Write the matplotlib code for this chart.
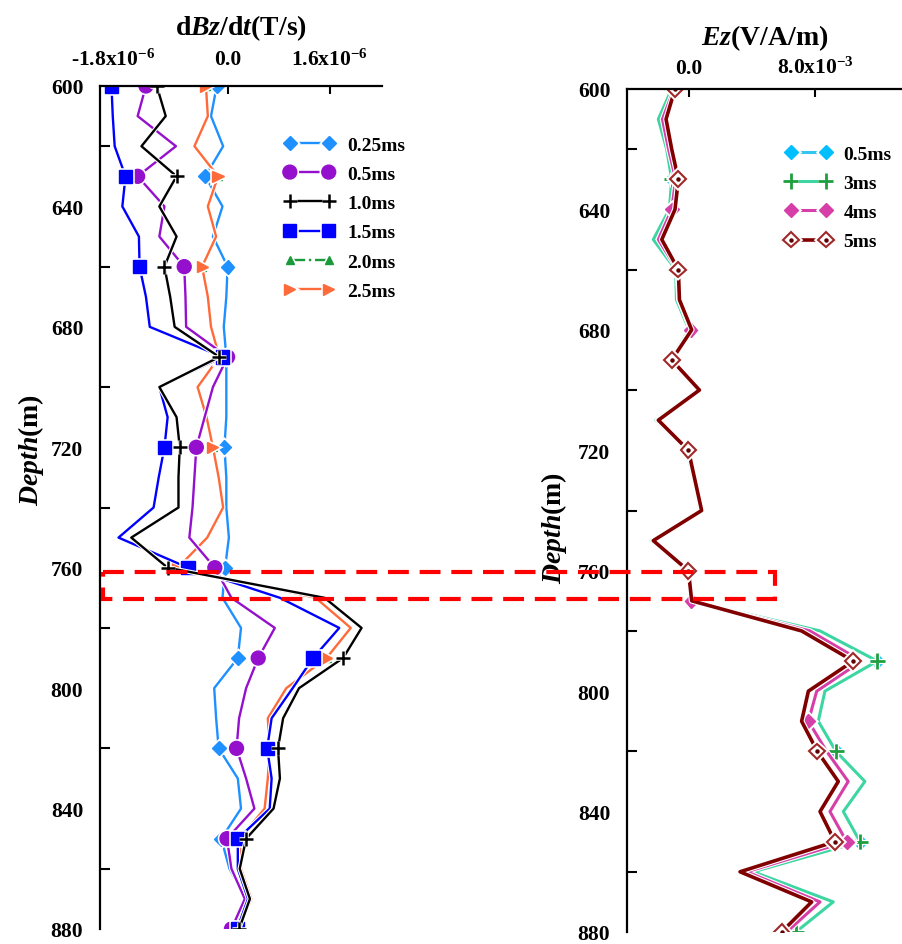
import numpy as np
import matplotlib
matplotlib.use("Agg")
import matplotlib.pyplot as plt
import matplotlib.patheffects as pe
from matplotlib.patches import Rectangle
from matplotlib.transforms import blended_transform_factory

plt.rcParams['font.family'] = ['Liberation Serif', 'DejaVu Serif']
plt.rcParams['font.weight'] = 'bold'
plt.rcParams['axes.labelweight'] = 'bold'
plt.rcParams['mathtext.fontset'] = 'custom'
plt.rcParams['mathtext.rm'] = 'Liberation Serif:bold'
plt.rcParams['mathtext.it'] = 'Liberation Serif:italic:bold'
plt.rcParams['mathtext.bf'] = 'Liberation Serif:bold'

# depth samples (m)
depth = np.arange(600, 881, 10)

# dBz/dt, in 1e-6 T/s
dbz_025 = [-0.17, -0.26, -0.07, -0.35, -0.08, -0.23, 0.00, -0.02, -0.06, -0.02,
           -0.02, -0.02, -0.05, -0.02, -0.02, 0.02, -0.04, -0.08, 0.21, 0.16,
           -0.21, -0.18, -0.14, 0.16, 0.21, -0.10, 0.03, 0.29, 0.10]
dbz_05 = [-1.28, -1.41, -0.81, -1.41, -0.99, -1.07, -0.68, -0.66, -0.65, 0.00,
          -0.23, -0.36, -0.49, -0.52, -0.55, -0.60, -0.20, 0.06, 0.74, 0.48,
          0.29, 0.18, 0.14, 0.29, 0.42, -0.01, 0.06, 0.27, 0.06]
dbz_10 = [-1.11, -0.97, -1.35, -0.80, -1.07, -0.80, -0.99, -0.90, -0.83, -0.13,
          -1.07, -0.80, -0.75, -0.77, -0.77, -1.51, -0.94, 1.52, 2.10, 1.81,
          1.12, 0.87, 0.79, 0.82, 0.72, 0.29, 0.19, 0.35, 0.18]
dbz_15 = [-1.82, -1.80, -1.77, -1.60, -1.65, -1.39, -1.38, -1.28, -1.22, -0.08,
          -1.07, -0.94, -0.99, -1.08, -1.16, -1.71, -0.62, 0.82, 1.75, 1.34,
          1.02, 0.69, 0.62, 0.69, 0.66, 0.16, 0.16, 0.32, 0.15]
dbz_20 = [-0.34, -0.31, -0.52, -0.15, -0.31, -0.18, -0.40, -0.31, -0.26, -0.13,
          -0.47, -0.33, -0.23, -0.14, -0.07, -0.32, -0.78, 1.38, 1.93, 1.55,
          0.92, 0.63, 0.66, 0.63, 0.58, 0.19, 0.21, 0.37, 0.17]
dbz_25 = [-0.34, -0.31, -0.52, -0.15, -0.31, -0.18, -0.40, -0.31, -0.26, -0.13,
          -0.47, -0.33, -0.23, -0.14, -0.07, -0.32, -0.78, 1.38, 1.93, 1.55,
          0.92, 0.63, 0.66, 0.63, 0.58, 0.19, 0.21, 0.37, 0.17]

# Ez, in 1e-3 V/A/m
ez_05 = [-1.10, -1.95, -1.42, -1.10, -1.25, -2.27, -0.85, -0.80, 0.00, -1.20,
         0.55, -2.10, -0.15, 0.30, 0.72, -2.40, -0.10, 0.12, 8.32, 11.96,
         8.63, 8.21, 9.33, 11.17, 9.80, 10.86, 4.08, 9.16, 6.79]
ez_3 = [-1.10, -1.95, -1.42, -1.10, -1.25, -2.27, -0.85, -0.80, 0.00, -1.20,
        0.55, -2.10, -0.15, 0.30, 0.72, -2.40, -0.10, 0.12, 8.32, 11.96,
        8.63, 8.21, 9.33, 11.17, 9.80, 10.86, 4.08, 9.16, 6.79]
ez_4 = [-0.95, -1.69, -1.30, -0.85, -1.10, -1.95, -0.75, -0.65, 0.10, -1.15,
        0.62, -2.00, -0.08, 0.35, 0.78, -2.30, -0.06, 0.15, 7.68, 10.96,
        8.11, 7.58, 8.74, 10.11, 8.95, 10.01, 3.66, 8.32, 6.20]
ez_5 = [-0.89, -1.46, -1.10, -0.68, -0.89, -1.73, -0.68, -0.61, 0.17, -1.10,
        0.66, -1.95, -0.04, 0.38, 0.80, -2.27, -0.04, 0.17, 7.15, 10.43,
        7.58, 7.15, 8.15, 9.48, 8.32, 9.27, 3.24, 7.79, 5.88]

mark_idx = [0, 3, 6, 9, 12, 16, 19, 22, 25, 28]
mark_idx_4ms = [0, 4, 8, 12, 17, 21, 25]

fig = plt.figure(figsize=(9.03, 9.45), dpi=100)
ax1 = fig.add_axes([100 / 903, 15 / 945, 282 / 903, 843 / 945])
ax2 = fig.add_axes([627 / 903, 12 / 945, 276 / 903, 843 / 945])


def halo(lw):
    return [pe.Stroke(linewidth=lw + 1.6, foreground='white'), pe.Normal()]


def style_axis(ax, xpad):
    ax.set_ylim(880, 600)
    ax.spines['bottom'].set_visible(False)
    ax.spines['right'].set_visible(False)
    ax.spines['top'].set_linewidth(1.6)
    ax.spines['left'].set_linewidth(1.6)
    ax.xaxis.tick_top()
    ax.xaxis.set_label_position('top')
    ax.set_yticks(np.arange(600, 881, 40))
    ax.set_yticks(np.arange(620, 880, 40), minor=True)
    ax.tick_params(axis='y', which='major', length=0, pad=12, labelsize=15.5)
    ax.tick_params(axis='y', which='minor', direction='in', length=7, width=1.5)
    ax.tick_params(axis='x', which='major', direction='in', length=6, width=1.5,
                   pad=xpad, labelsize=15.5)


# ---- left: dBz/dt ----
lw = 1.7
left_series = [
    (dbz_025, '0.25ms', dict(color='#1E90FF', marker='D', ms=7)),
    (dbz_20, '2.0ms', dict(color='#1A9A3A', marker='^', ms=6, ls='-.')),
    (dbz_25, '2.5ms', dict(color='#FF6A3A', marker='>', ms=8)),
    (dbz_05, '0.5ms', dict(color='#9510CC', marker='o', ms=10)),
    (dbz_15, '1.5ms', dict(color='#0000FF', marker='s', ms=9.5)),
    (dbz_10, '1.0ms', dict(color='black', marker='+', ms=10, mew=1.8)),
]
handles = {}
for vals, lab, kw in left_series:
    kw = dict(kw)
    kw.setdefault('mec', kw['color'])
    (ln,) = ax1.plot(np.array(vals) * 1e-6, depth, lw=lw, markevery=mark_idx,
                     label=lab, path_effects=halo(lw), **kw)
    handles[lab] = ln

style_axis(ax1, 12)
ax1.set_xlim(-2.0e-6, 2.42e-6)
ax1.set_xticks([-1.8e-6, 0.0, 1.6e-6])
ax1.set_xticklabels(['-1.8x10$^{-6}$', '0.0', '1.6x10$^{-6}$'])
ax1.set_xlabel('d$\\mathit{Bz}$/d$\\mathit{t}$(T/s)', fontsize=20, fontweight='bold',
               labelpad=10)
ax1.set_ylabel('$\\mathit{Depth}$(m)', fontsize=20, fontweight='bold')
ax1.yaxis.set_label_coords(-0.19, 0.57)

order = ['0.25ms', '0.5ms', '1.0ms', '1.5ms', '2.0ms', '2.5ms']
ax1.legend([handles[k] for k in order], order, loc='upper left',
           bbox_to_anchor=(284 / 903, 1 - 137 / 945), bbox_transform=fig.transFigure,
           frameon=False, numpoints=2, handlelength=2.6, handletextpad=0.65,
           labelspacing=0.6, borderpad=0, borderaxespad=0, fontsize=14)

# ---- right: Ez ----
lw2 = 2.2
(l05,) = ax2.plot(np.array(ez_05) * 1e-3, depth, color='#33C6F0', marker='D', ms=7,
                  mfc='#00BFFF', mec='#00BFFF', lw=lw2, markevery=mark_idx,
                  path_effects=halo(lw2))
(l3,) = ax2.plot(np.array(ez_3) * 1e-3, depth, color='#3DD6A3', marker='+', ms=11,
                 mec='#1F9F3F', mew=2.0, lw=lw2, markevery=mark_idx,
                 path_effects=halo(lw2))
(l4,) = ax2.plot(np.array(ez_4) * 1e-3, depth, color='#D63FA8', marker='D', ms=7,
                 lw=lw2, markevery=mark_idx_4ms, path_effects=halo(lw2))
(l5,) = ax2.plot(np.array(ez_5) * 1e-3, depth, color='#800000', marker='D', ms=8,
                 mfc='white', mec='#A02828', mew=1.5, lw=2.6, markevery=mark_idx,
                 path_effects=halo(2.6))
(l5d,) = ax2.plot(np.array(ez_5) * 1e-3, depth, ls='none', marker='o', ms=2.2,
                  color='#600000', markevery=mark_idx)

style_axis(ax2, 8)
ax2.set_xlim(-3.94e-3, 13.59e-3)
ax2.set_xticks([0.0, 8.0e-3])
ax2.set_xticklabels(['0.0', '8.0x10$^{-3}$'])
ax2.set_xlabel('$\\mathit{Ez}$(V/A/m)', fontsize=20, fontweight='bold', labelpad=9)
ax2.set_ylabel('$\\mathit{Depth}$(m)', fontsize=20, fontweight='bold')
ax2.yaxis.set_label_coords(-0.21, 0.48)
ax2.legend([l05, l3, l4, (l5, l5d)], ['0.5ms', '3ms', '4ms', '5ms'], loc='upper left',
           bbox_to_anchor=(785 / 903, 1 - 146 / 945), bbox_transform=fig.transFigure,
           frameon=False, numpoints=2, handlelength=2.4, handletextpad=0.6,
           labelspacing=0.6, borderpad=0, borderaxespad=0, fontsize=14)

# red dashed box marking the anomaly depth
box_depth = (761.5, 770.5)
trans = blended_transform_factory(fig.transFigure, ax1.transData)
fig.patches.append(Rectangle((103 / 903, box_depth[0]), (775 - 103) / 903,
                             box_depth[1] - box_depth[0], transform=trans,
                             fill=False, edgecolor='#FF0000', lw=3,
                             ls=(0, (5, 2.6)), zorder=10))

fig.savefig('out.png', dpi=100)
